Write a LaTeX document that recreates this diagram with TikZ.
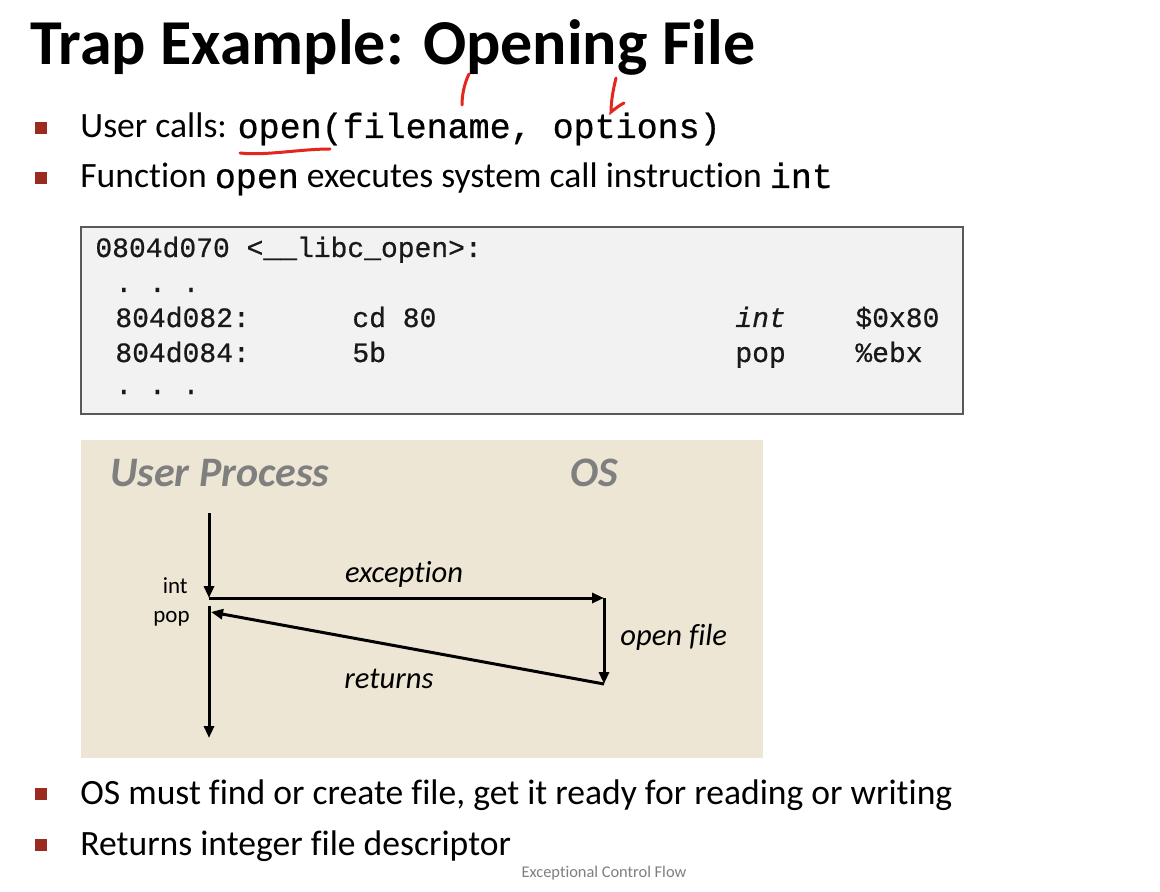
\documentclass[tikz,border=0pt]{standalone}
\usepackage{fontspec}
\setmainfont{Carlito}[Ligatures=NoCommon]
\setmonofont{Liberation Mono}[FakeBold=0.7]
\usetikzlibrary{arrows.meta}
\definecolor{beige}{HTML}{EDE6D4}
\definecolor{codebg}{HTML}{F2F2F2}
\definecolor{codeframe}{HTML}{595959}
\definecolor{bulletred}{HTML}{9B2A1F}
\definecolor{ink}{HTML}{E3261E}
\definecolor{headgray}{HTML}{7F7F7F}
\newcommand\slidett[1]{{\fontsize{17.5}{20}\selectfont\ttfamily #1}}
\begin{document}
\begin{tikzpicture}[x=0.5pt,y=-0.5pt,
  txt/.style={anchor=base west, inner sep=0pt},
  bodytext/.style={txt, font=\fontsize{17.8}{20}\selectfont},
  codetext/.style={txt, font=\fontsize{14}{16}\selectfont\ttfamily, text=black!90},
  bulletsq/.style={fill=bulletred, minimum size=5.8pt, inner sep=0pt},
  flow/.style={line width=1.5pt, -{Triangle[length=6pt,width=5pt]}},
  lbl/.style={inner sep=0pt, font=\fontsize{15.3}{17}\selectfont\itshape},
  head/.style={txt, font=\fontsize{21}{24}\selectfont\bfseries\itshape, text=headgray},
  inkstroke/.style={ink, line width=1.5pt, line cap=round}
]
\useasboundingbox[fill=white] (0,0) rectangle (1160,892);

% title
\node[txt, font=\fontsize{32}{36}\selectfont\bfseries] (title) at (30,65) {Trap Example: Opening File};

% top bullets
\node[bulletsq] (bq1) at (41,128) {};
\node[bodytext] (b1) at (80,138) {User calls: \slidett{open(filename, options)}};
\node[bulletsq] (bq2) at (41,178) {};
\node[bodytext] (b2) at (80,188) {Function \slidett{open} executes system call instruction \slidett{int}};

% code box
\node[draw=codeframe, fill=codebg, line width=1pt, minimum width=441pt, minimum height=93.5pt, inner sep=0pt] (code) at (522,320.5) {};
\node[codetext] (c0) at (95,257) {0804d070 <\_\_libc\_open>:};
\node[codetext] (c1) at (115,292) {.\ .\ .};
\node[codetext] (c2a) at (115,327) {804d082:};
\node[codetext] (c2b) at (352,327) {cd 80};
\node[codetext] (c2c) at (735,327) {\itshape int};
\node[codetext] (c2d) at (855,327) {\$0x80};
\node[codetext] (c3a) at (115,362) {804d084:};
\node[codetext] (c3b) at (352,362) {5b};
\node[codetext] (c3c) at (735,362) {pop};
\node[codetext] (c3d) at (855,362) {\%ebx};
\node[codetext] (c4) at (115,394) {.\ .\ .};

% diagram panel
\node[fill=beige, minimum width=341pt, minimum height=159pt, inner sep=0pt] (panel) at (422,599) {};
\node[head] (up) at (110,486) {User Process};
\node[head] (os) at (570,486) {OS};

\coordinate (s) at (209,513);
\coordinate (i) at (209,598);
\coordinate (oa) at (604,598);
\coordinate (ob) at (604,684);
\coordinate (r) at (211,612);
\coordinate (p) at (209,606);
\coordinate (e) at (209,738);

\draw[flow] (s) -- (i);
\draw[flow] (i) -- (oa);
\draw[flow] (oa) -- (ob);
\draw[flow] (ob) -- (r);
\draw[flow] (p) -- (e);

\node[lbl, anchor=base] (lexc) at (404,582) {exception};
\node[lbl, anchor=base west] (lopen) at (620,645) {open file};
\node[lbl, anchor=base] (lret) at (389,688) {returns};
\node[inner sep=0pt, anchor=base east, font=\fontsize{11.5}{13}\selectfont] (lint) at (188,593) {int};
\node[inner sep=0pt, anchor=base east, font=\fontsize{11.5}{13}\selectfont] (lpop) at (190,622) {pop};

% bottom bullets
\node[bulletsq] (bq3) at (41,794) {};
\node[bodytext] (b3) at (80,804) {OS must find or create file, get it ready for reading or writing};
\node[bulletsq] (bq4) at (41,845) {};
\node[bodytext] (b4) at (80,855) {Returns integer file descriptor};

% footer
\node[inner sep=0pt, font=\fontsize{8.2}{10}\selectfont, text=headgray] (foot) at (604,873) {Exceptional Control Flow};

% handwritten red marks
\draw[inkstroke] (240,153) .. controls (265,156) and (300,149) .. (330,149);
\draw[inkstroke] (469,74) .. controls (464,84) and (462,96) .. (462,105);
\draw[inkstroke] (616,78) .. controls (613,90) and (611,102) .. (611,112) .. controls (616,108) and (620,105) .. (624,103);
\end{tikzpicture}
\end{document}
